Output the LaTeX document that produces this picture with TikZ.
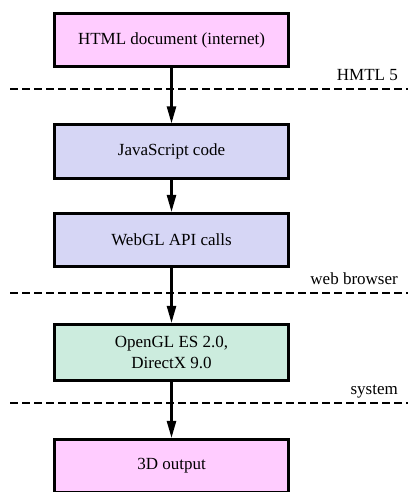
\documentclass[tikz,border=0pt]{standalone}
\usepackage{fontspec}
\setmainfont{Liberation Serif}
\usetikzlibrary{arrows.meta}
\definecolor{pinkbox}{RGB}{255,204,255}
\definecolor{lavbox}{RGB}{214,214,245}
\definecolor{mintbox}{RGB}{204,236,222}
\begin{document}
\begin{tikzpicture}[x=1pt,y=-1pt,
  box/.style={draw=black, line width=2.6pt, minimum width=234.5pt, minimum height=53.5pt,
    inner sep=0pt, align=center, font=\fontsize{17}{21}\selectfont},
  arr/.style={line width=2.4pt, -{Triangle[length=17pt,width=9pt]}},
  sep/.style={line width=2.4pt, dash pattern=on 8pt off 4pt},
  lbl/.style={anchor=base east, inner sep=0pt, font=\fontsize{17}{21}\selectfont}]
\useasboundingbox (0,0) rectangle (408,492);
\clip (0,0) rectangle (408,492);

\node[box, fill=pinkbox] (html) at (171.5,40) {HTML document (internet)};
\node[box, fill=lavbox]  (js)   at (171.5,151.5) {JavaScript code};
\node[box, fill=lavbox]  (gl)   at (171.5,240) {WebGL API calls};
\node[box, fill=mintbox, minimum height=56.5pt] (ogl) at (171.5,352.5) {OpenGL ES 2.0,\\DirectX 9.0};
\node[box, fill=pinkbox] (out)  at (171.5,466) {3D output};

\coordinate (s1a) at (10,89);  \coordinate (s1b) at (408,89);
\coordinate (s2a) at (10,293); \coordinate (s2b) at (408,293);
\coordinate (s3a) at (10,403); \coordinate (s3b) at (408,403);
\draw[sep] (s1a) -- (s1b);
\draw[sep] (s2a) -- (s2b);
\draw[sep] (s3a) -- (s3b);

\node[lbl] (l1) at (398,81) {HMTL 5};
\node[lbl] (l2) at (398,284) {web browser};
\node[lbl] (l3) at (398,394) {system};

\draw[arr] (html) -- (js);
\draw[arr] (js) -- (gl);
\draw[arr] (gl) -- (ogl);
\draw[arr] (ogl) -- (out);
\end{tikzpicture}
\end{document}
